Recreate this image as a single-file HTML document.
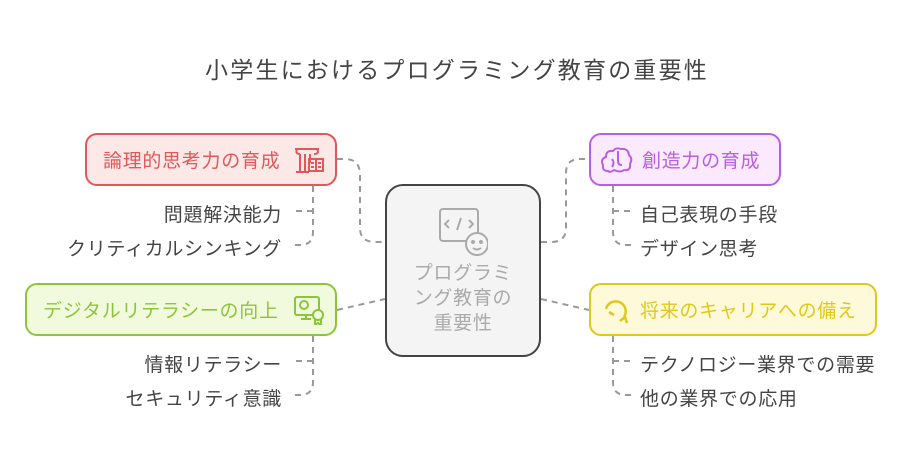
<!DOCTYPE html>
<html><head><meta charset="utf-8"><style>
body{margin:0;background:#fff;}
#c{position:relative;width:914px;height:458px;overflow:hidden;font-family:"Liberation Sans","Noto Sans CJK JP",sans-serif;}
.t{position:absolute;white-space:nowrap;letter-spacing:0.7px;}
.box{position:absolute;box-sizing:border-box;border-radius:12px;border:2px solid;}
.s{font-size:19px;color:#444;}
</style></head><body><div id="c">
<svg width="914" height="458" style="position:absolute;left:0;top:0" fill="none">
<g stroke="#999" stroke-width="2" stroke-dasharray="6,5">
<path d="M337 159 H345 Q360 159 360 175 V228 Q360 242 375 242 H385"/>
<path d="M541 242 H551 Q566 242 566 228 V173 Q566 159 580 159 H589"/>
<path d="M337 310 L385 299"/>
<path d="M541 299 L589 310"/>
<path d="M313 186 V232 Q313 245 300 245 H292"/>
<path d="M313 211 H292"/>
<path d="M313 336 V382 Q313 395 300 395 H292"/>
<path d="M313 361 H292"/>
<path d="M613 186 V232 Q613 245 626 245 H634"/>
<path d="M613 211 H634"/>
<path d="M613 336 V382 Q613 395 626 395 H634"/>
<path d="M613 361 H634"/>
</g>
</svg>
<div class="t" style="left:0;width:914px;top:51px;text-align:center;font-size:23px;letter-spacing:2.2px;color:#444;">小学生におけるプログラミング教育の重要性</div>

<div class="box" style="left:85px;top:133px;width:252px;height:53px;background:#fde8e8;border-color:#e05858;"></div>
<div class="t" style="left:103px;top:146px;font-size:19px;color:#e05858;">論理的思考力の育成</div>
<svg style="position:absolute;left:293px;top:145px" width="34" height="30" fill="none" stroke="#e05858" stroke-width="2"><path d="M2 4 H26 M4 4 Q2 9 7 9 M24 4 Q27 9 21 9 M7 9 V26 M12 9 V26 M17 9 V18 M3 27 H16"/><rect x="16" y="14" width="14" height="12"/><path d="M23 14 V26 M18 18 H21 M25 18 H28 M18 22 H21 M25 22 H28"/></svg>

<div class="box" style="left:25px;top:283px;width:312px;height:53px;background:#f1fadc;border-color:#8cc43c;"></div>
<div class="t" style="left:43px;top:296px;font-size:19px;color:#8cc43c;">デジタルリテラシーの向上</div>
<svg style="position:absolute;left:293px;top:295px" width="34" height="30" fill="none" stroke="#8cc43c" stroke-width="2"><rect x="2" y="2" width="24" height="18" rx="2"/><path d="M8 24 H18 M13 20 V24"/><circle cx="11" cy="10" r="4"/><circle cx="25" cy="20" r="5" fill="#f1fadc"/><path d="M22 24 V30 L25 28 L28 30 V24"/></svg>

<div class="box" style="left:385px;top:184px;width:156px;height:173px;background:#f4f4f4;border-color:#444;border-radius:18px;"></div>
<svg style="position:absolute;left:438px;top:207px" width="50" height="50" fill="none" stroke="#aaa" stroke-width="2"><rect x="2" y="2" width="38" height="32" rx="3"/><path d="M11 13 L7 17 L11 21 M31 13 L35 17 L31 21 M23 11 L19 23"/><circle cx="39" cy="37" r="11" fill="#f4f4f4"/><circle cx="35" cy="35" r="1" fill="#aaa"/><circle cx="43" cy="35" r="1" fill="#aaa"/><path d="M35 41 Q39 44 43 41"/></svg>
<div class="t" style="left:385px;width:156px;top:261px;text-align:center;font-size:19px;line-height:25px;color:#aaa;white-space:normal;">プログラミ<br>ング教育の<br>重要性</div>

<div class="box" style="left:589px;top:133px;width:192px;height:53px;background:#fbeafd;border-color:#b85ee0;"></div>
<svg style="position:absolute;left:600px;top:145px" width="34" height="30" fill="none" stroke="#b85ee0" stroke-width="2"><path d="M8 26 Q2 26 3 20 Q0 14 6 12 Q6 5 13 6 Q16 2 21 4 Q28 3 29 10 Q33 14 30 19 Q31 26 24 25 Q20 28 14 25 Q10 28 8 26 Z M18 6 V16 Q18 20 22 20 M12 14 Q15 18 12 22"/></svg>
<div class="t" style="left:642px;top:146px;font-size:19px;color:#b85ee0;">創造力の育成</div>

<div class="box" style="left:589px;top:283px;width:288px;height:53px;background:#fef9d8;border-color:#e0c818;"></div>
<svg style="position:absolute;left:600px;top:295px" width="34" height="30" fill="none" stroke="#e0c818" stroke-width="2.5"><path d="M6 14 A10 10 0 1 1 24 22 M20 26 L25 22 L27 28 M9 17 L14 20"/></svg>
<div class="t" style="left:640px;top:296px;font-size:19px;color:#e0c818;">将来のキャリアへの備え</div>

<div class="t s" style="right:632px;top:200px;">問題解決能力</div>
<div class="t s" style="right:632px;top:234px;">クリティカルシンキング</div>
<div class="t s" style="right:632px;top:350px;">情報リテラシー</div>
<div class="t s" style="right:632px;top:384px;">セキュリティ意識</div>
<div class="t s" style="left:640px;top:200px;">自己表現の手段</div>
<div class="t s" style="left:640px;top:234px;">デザイン思考</div>
<div class="t s" style="left:640px;top:350px;">テクノロジー業界での需要</div>
<div class="t s" style="left:640px;top:384px;">他の業界での応用</div>
</div></body></html>
